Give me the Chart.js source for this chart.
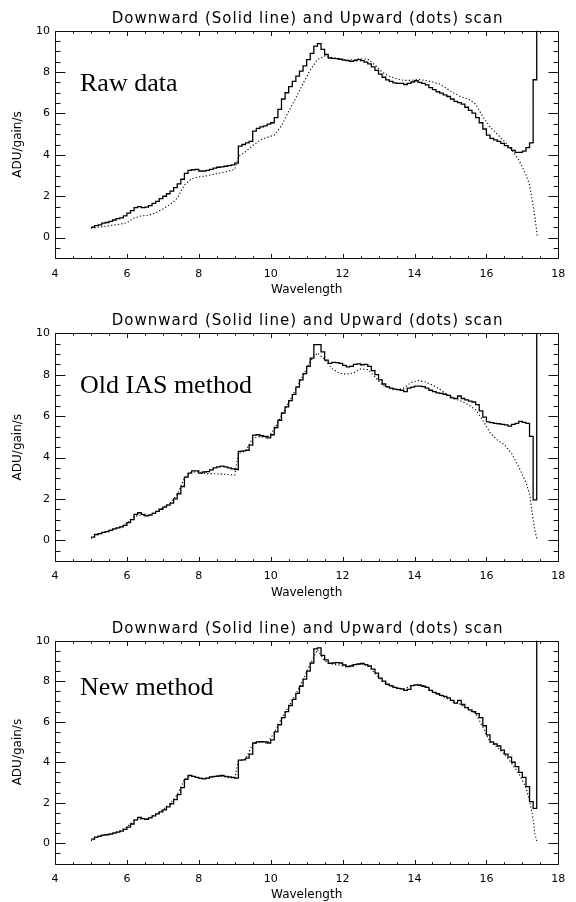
<!DOCTYPE html>
<html><head><meta charset="utf-8">
<script src="https://cdn.jsdelivr.net/npm/chart.js@4.4.1/dist/chart.umd.min.js"></script>
<style>
html,body{margin:0;padding:0;background:#fff;width:576px;height:902px;overflow:hidden}
canvas{position:absolute;left:0}
</style></head>
<body>
<canvas id="c1" width="576" height="302" style="top:0px"></canvas>
<canvas id="c2" width="576" height="305" style="top:302px"></canvas>
<canvas id="c3" width="576" height="295" style="top:607px"></canvas>
<script>
// ---- tick labels ----
const xTickLabels = [4, 6, 8, 10, 12, 14, 16, 18];
const yTickLabels = [0, 2, 4, 6, 8, 10];
const chartTitle = 'Downward (Solid line) and Upward (dots) scan';
const xTitle = 'Wavelength';
const yTitle = 'ADU/gain/s';
const panelLabels = ['Raw data', 'Old IAS method', 'New method'];

// ---- downward scan (solid, histogram) wavelengths: bin left edges ----
const downX = [
 5.0,5.1,5.2,5.3,5.4,5.5,5.6,5.7,5.8,5.9,
 6.0,6.1,6.2,6.3,6.4,6.5,6.6,6.7,6.8,6.9,
 7.0,7.1,7.2,7.3,7.4,7.5,7.6,7.7,7.8,7.9,
 8.0,8.1,8.2,8.3,8.4,8.5,8.6,8.7,8.8,8.9,
 9.0,9.1,9.2,9.3,9.4,9.5,9.6,9.7,9.8,9.9,
 10.0,10.1,10.2,10.3,10.4,10.5,10.6,10.7,10.8,10.9,
 11.0,11.1,11.2,11.3,11.4,11.5,11.6,11.7,11.8,11.9,
 12.0,12.1,12.2,12.3,12.4,12.5,12.6,12.7,12.8,12.9,
 13.0,13.1,13.2,13.3,13.4,13.5,13.6,13.7,13.8,13.9,
 14.0,14.1,14.2,14.3,14.4,14.5,14.6,14.7,14.8,14.9,
 15.0,15.1,15.2,15.3,15.4,15.5,15.6,15.7,15.8,15.9,
 16.0,16.1,16.2,16.3,16.4,16.5,16.6,16.7,16.8,16.9,
 17.0,17.1,17.2,17.3,17.4
];

// Raw data, downward
const downRaw = [
 0.50,0.58,0.62,0.70,0.73,0.78,0.85,0.92,0.95,1.05,
 1.18,1.30,1.45,1.50,1.45,1.47,1.55,1.65,1.75,1.88,
 2.00,2.12,2.25,2.42,2.60,2.82,3.10,3.25,3.28,3.30,
 3.22,3.22,3.25,3.30,3.36,3.40,3.42,3.45,3.48,3.52,
 3.60,4.42,4.50,4.58,4.65,5.15,5.28,5.35,5.40,5.48,
 5.55,5.80,6.20,6.70,7.00,7.30,7.55,7.80,8.05,8.30,
 8.60,8.90,9.25,9.38,9.10,8.85,8.68,8.66,8.65,8.62,
 8.58,8.55,8.52,8.55,8.60,8.55,8.48,8.40,8.25,8.08,
 7.90,7.75,7.62,7.55,7.48,7.45,7.45,7.40,7.45,7.52,
 7.58,7.50,7.45,7.38,7.25,7.15,7.05,6.98,6.90,6.82,
 6.70,6.58,6.52,6.45,6.30,6.15,6.02,5.80,5.55,5.25,
 4.95,4.80,4.72,4.65,4.55,4.45,4.35,4.22,4.12,4.12,
 4.18,4.35,4.58,7.63,11.0
];

// Old IAS method, downward
const downOld = [
 0.15,0.28,0.32,0.38,0.42,0.48,0.55,0.60,0.65,0.72,
 0.85,1.00,1.25,1.33,1.25,1.18,1.22,1.30,1.40,1.50,
 1.60,1.70,1.80,2.00,2.25,2.60,3.05,3.25,3.35,3.35,
 3.25,3.30,3.32,3.40,3.50,3.55,3.58,3.55,3.50,3.45,
 3.42,4.30,4.32,4.35,4.60,5.08,5.10,5.05,5.02,4.95,
 5.10,5.45,5.80,6.15,6.45,6.75,7.05,7.40,7.75,8.05,
 8.40,8.80,9.45,9.45,9.10,8.70,8.55,8.60,8.58,8.55,
 8.45,8.38,8.40,8.50,8.52,8.48,8.50,8.40,8.20,8.00,
 7.75,7.55,7.42,7.35,7.30,7.28,7.25,7.18,7.35,7.40,
 7.45,7.45,7.42,7.35,7.25,7.18,7.12,7.10,7.05,7.00,
 6.88,6.85,6.97,6.85,6.78,6.72,6.68,6.55,6.25,5.95,
 5.72,5.68,5.65,5.63,5.60,5.58,5.52,5.60,5.65,5.75,
 5.70,5.65,5.02,1.95,11.0
];

// New method, downward
const downNew = [
 0.20,0.30,0.35,0.40,0.42,0.45,0.50,0.55,0.60,0.68,
 0.80,0.95,1.15,1.28,1.22,1.18,1.25,1.35,1.45,1.55,
 1.65,1.80,1.95,2.15,2.40,2.75,3.15,3.35,3.30,3.25,
 3.20,3.18,3.22,3.28,3.30,3.32,3.35,3.30,3.28,3.25,
 3.22,4.10,4.12,4.20,4.40,4.95,5.00,5.02,5.00,4.95,
 5.10,5.50,5.85,6.20,6.50,6.80,7.10,7.40,7.75,8.10,
 8.50,8.90,9.60,9.65,9.28,9.05,8.88,8.90,8.92,8.90,
 8.80,8.72,8.75,8.82,8.85,8.88,8.82,8.75,8.60,8.40,
 8.15,8.00,7.85,7.78,7.70,7.65,7.62,7.55,7.60,7.78,
 7.82,7.80,7.75,7.70,7.55,7.45,7.38,7.30,7.25,7.18,
 7.05,6.92,7.05,6.85,6.70,6.58,6.50,6.40,6.20,5.80,
 5.35,5.00,4.90,4.80,4.60,4.40,4.25,4.00,3.78,3.50,
 3.25,2.80,2.05,1.72,11.0
];

// ---- upward scan (dots) wavelengths ----
const upX = [
 5.0,5.2,5.4,5.6,5.8,6.0,6.2,6.4,6.6,6.8,
 7.0,7.2,7.4,7.6,7.8,8.0,8.2,8.4,8.6,8.8,
 9.0,9.1,9.3,9.5,9.7,9.9,10.1,10.3,10.5,10.7,
 10.9,11.1,11.3,11.5,11.7,11.9,12.1,12.3,12.5,12.7,
 12.9,13.1,13.3,13.5,13.7,13.9,14.1,14.3,14.5,14.7,
 14.9,15.1,15.3,15.5,15.7,15.9,16.1,16.3,16.5,16.7,
 16.9,17.1,17.2,17.3,17.35,17.42
];

const upRaw = [
 0.45,0.50,0.55,0.60,0.65,0.72,0.95,1.05,1.08,1.20,
 1.38,1.60,1.90,2.55,2.85,2.93,2.98,3.05,3.12,3.20,
 3.30,3.92,4.15,4.45,4.70,4.85,4.95,5.40,6.10,6.75,
 7.45,8.10,8.60,8.78,8.70,8.62,8.58,8.60,8.65,8.62,
 8.35,8.00,7.80,7.68,7.60,7.60,7.65,7.60,7.52,7.42,
 7.20,6.98,6.80,6.70,6.45,5.85,5.35,5.00,4.65,4.25,
 3.75,3.05,2.55,1.55,1.00,0.00
];

const upOld = [
 0.10,0.28,0.40,0.52,0.62,0.82,1.15,1.22,1.20,1.38,
 1.58,1.78,2.20,3.00,3.30,3.30,3.22,3.22,3.20,3.18,
 3.15,4.20,4.30,4.95,5.00,4.95,5.35,6.05,6.65,7.30,
 7.95,8.65,9.05,8.75,8.30,8.08,8.02,8.08,8.28,8.25,
 7.90,7.50,7.35,7.28,7.35,7.62,7.72,7.65,7.50,7.30,
 7.05,6.85,6.72,6.55,6.30,5.80,5.20,4.85,4.62,4.20,
 3.55,2.80,2.25,1.00,0.45,0.00
];

const upNew = [
 0.12,0.33,0.42,0.50,0.60,0.80,1.12,1.22,1.22,1.42,
 1.65,1.95,2.40,3.15,3.35,3.22,3.20,3.28,3.30,3.25,
 3.20,4.05,4.15,4.90,5.00,4.95,5.45,6.15,6.75,7.35,
 8.05,8.85,9.55,9.00,8.85,8.80,8.72,8.82,8.85,8.78,
 8.40,8.00,7.78,7.68,7.60,7.78,7.85,7.75,7.50,7.32,
 7.15,6.95,6.85,6.60,6.40,5.75,5.00,4.75,4.40,3.95,
 3.45,2.75,2.10,1.20,0.45,0.00
];

const FONT = '"DejaVu Sans", sans-serif';

function framePlugin(label, labelDy) {
  return {
    id: 'frame',
    afterDraw(chart) {
      const ctx = chart.ctx;
      const a = chart.chartArea;
      const xs = chart.scales.x, ys = chart.scales.y;
      ctx.save();
      ctx.strokeStyle = '#111';
      ctx.lineWidth = 1;
      const L = Math.round(a.left) + 0.5, R = Math.round(a.right) + 0.5;
      const T = Math.round(a.top) + 0.5, B = Math.round(a.bottom) + 0.5;
      ctx.beginPath();
      ctx.rect(L, T, R - L, B - T);
      for (let v = xs.min; v <= xs.max + 1e-9; v += 0.5) {
        const px = Math.round(xs.getPixelForValue(v)) + 0.5;
        const len = (Math.abs(v % 2) < 1e-9) ? 4.5 : 2.3;
        ctx.moveTo(px, B); ctx.lineTo(px, B - len);
        ctx.moveTo(px, T); ctx.lineTo(px, T + len);
      }
      for (let v = ys.min; v <= ys.max + 1e-9; v += 0.5) {
        const py = Math.round(ys.getPixelForValue(v)) + 0.5;
        const len = (Math.abs(v % 2) < 1e-9) ? 10 : 5;
        ctx.moveTo(L, py); ctx.lineTo(L + len, py);
        ctx.moveTo(R, py); ctx.lineTo(R - len, py);
      }
      ctx.stroke();
      ctx.fillStyle = '#000';
      ctx.font = '15px ' + FONT;
      ctx.textAlign = 'center';
      ctx.textBaseline = 'middle';
      if ('letterSpacing' in ctx) ctx.letterSpacing = '1px';
      ctx.fillText(chartTitle, (a.left + a.right) / 2 + 1, a.top - 12);
      if ('letterSpacing' in ctx) ctx.letterSpacing = '0px';
      ctx.font = '26px "Liberation Serif", serif';
      ctx.textAlign = 'left';
      ctx.fillText(label, 80, a.top + labelDy);
      ctx.restore();
    }
  };
}

function makeChart(id, downY, upY, label, padTop, xHeight, xTitlePad, labelDy) {
  const solid = downX.map((x, i) => ({x: x, y: downY[i]}));
  const dots = upX.map((x, i) => ({x: x, y: upY[i]}));
  return new Chart(document.getElementById(id), {
    type: 'line',
    data: {
      datasets: [
        {data: solid, stepped: true, borderColor: '#000', borderWidth: 1.3, pointRadius: 0, fill: false},
        {data: dots, borderColor: '#000', borderWidth: 1.1, borderDash: [1.2, 2.2], pointRadius: 0, fill: false, tension: 0}
      ]
    },
    options: {
      responsive: false,
      animation: false,
      devicePixelRatio: 1,
      layout: {padding: {top: padTop, left: 0, right: 17.7, bottom: 0}},
      plugins: {legend: {display: false}, tooltip: {enabled: false}, title: {display: false}},
      scales: {
        x: {
          type: 'linear', min: 4, max: 18,
          afterBuildTicks(s) { s.ticks = xTickLabels.map(v => ({value: v})); },
          afterFit(s) { s.height = xHeight; },
          grid: {display: false, drawTicks: false},
          border: {display: false},
          ticks: {color: '#000', font: {family: FONT, size: 11}, padding: 9, maxRotation: 0},
          title: {display: true, text: xTitle, color: '#000', font: {family: FONT, size: 12}, padding: {top: 0, bottom: xTitlePad}}
        },
        y: {
          type: 'linear', min: -1, max: 10,
          afterBuildTicks(s) { s.ticks = yTickLabels.map(v => ({value: v})); },
          afterFit(s) { s.width = 55; },
          grid: {display: false, drawTicks: false},
          border: {display: false},
          ticks: {color: '#000', font: {family: FONT, size: 11}, padding: 5},
          title: {display: true, text: yTitle, color: '#000', font: {family: FONT, size: 12}, padding: {top: 11, bottom: 0}}
        }
      }
    },
    plugins: [framePlugin(label, labelDy)]
  });
}

makeChart('c1', downRaw, upRaw, panelLabels[0], 30.7, 43.7, 4.5, 53);
makeChart('c2', downOld, upOld, panelLabels[1], 31.3, 46, 6.8, 53);
makeChart('c3', downNew, upNew, panelLabels[2], 33.7, 38.5, 0, 47);
</script>
</body></html>
